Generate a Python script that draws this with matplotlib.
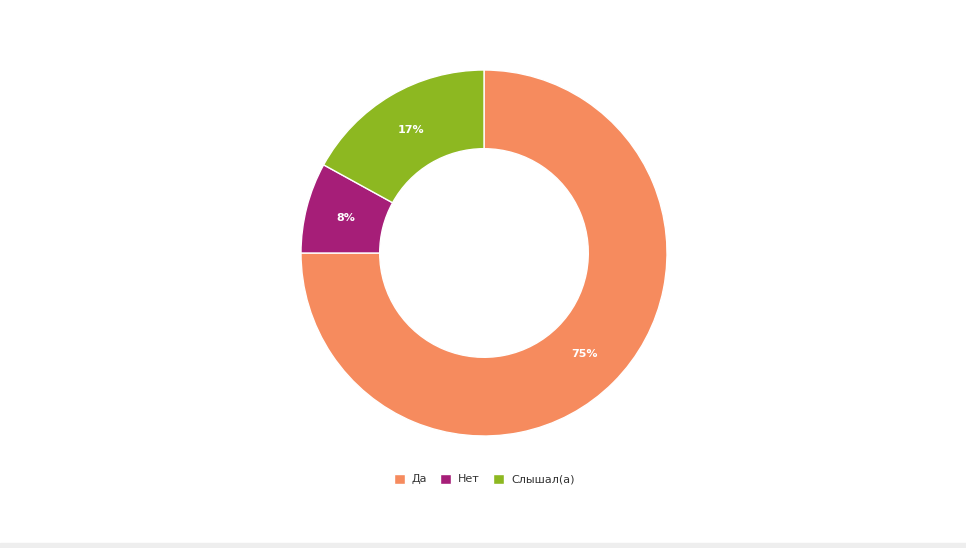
import matplotlib
matplotlib.use("Agg")
import matplotlib.pyplot as plt
from matplotlib.patches import Rectangle

labels = ["Да", "Нет", "Слышал(а)"]
values = [75, 8, 17]
colors = ["#F68B5E", "#A61E78", "#8DB821"]

W, H = 966, 548
fig = plt.figure(figsize=(W/100, H/100), dpi=100)
fig.patches.append(Rectangle((0, 0), 1, 5/H, transform=fig.transFigure, color="#EEEEEE", zorder=0))
cx, cy, r = 484, H-253, 183
ax = fig.add_axes([(cx-r)/W, (cy-r)/H, 2*r/W, 2*r/H])
wedges, _ = ax.pie(values, colors=colors, startangle=90, counterclock=False,
                   radius=1, wedgeprops=dict(width=0.43, edgecolor="white", linewidth=1))
import numpy as np
ang = 90
for v, w in zip(values, wedges):
    mid = np.deg2rad(ang - v*3.6/2)
    ang -= v*3.6
    ax.text(0.78*np.cos(mid), 0.78*np.sin(mid), f"{v}%", ha="center", va="center",
            color="white", fontsize=8, fontweight="bold")
ax.set_xlim(-1, 1); ax.set_ylim(-1, 1); ax.set_aspect("equal"); ax.axis("off")
fig.legend(wedges, labels, loc="center", bbox_to_anchor=(cx/W, (H-479)/H), ncol=3,
           frameon=False, fontsize=8, handlelength=1, handleheight=1, handletextpad=0.6,
           columnspacing=1.2, labelcolor="#333333")
fig.savefig("out.png", dpi=100, facecolor="white")
